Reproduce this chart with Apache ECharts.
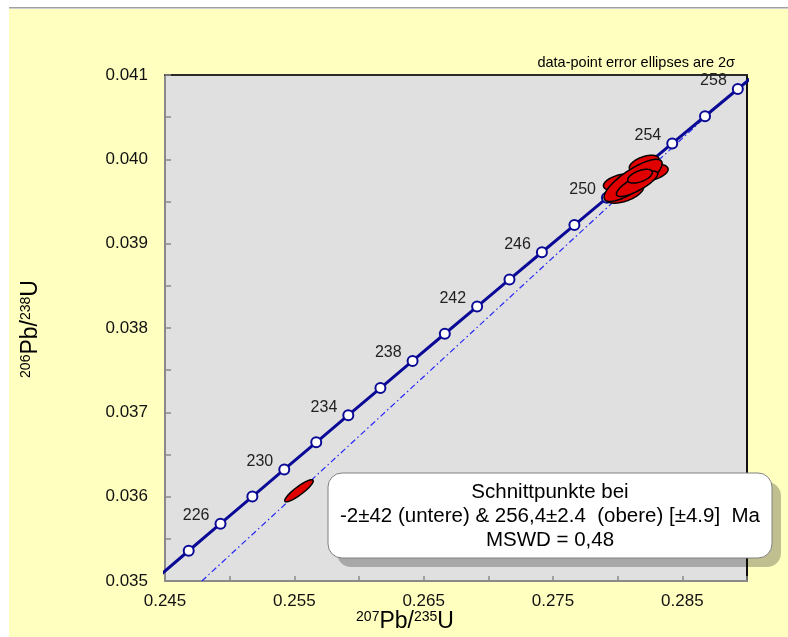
<!DOCTYPE html>
<html><head><meta charset="utf-8">
<script src="https://cdn.jsdelivr.net/npm/echarts@6/dist/echarts.min.js"></script>
<style>html,body{margin:0;padding:0;background:#fff}#c{width:788px;height:637px}</style>
</head><body><div id="c"></div>
<script>
// Concordia (age in Ma, 207Pb/235U, 206Pb/238U)
const concordiaAges = [222,224,226,228,230,232,234,236,238,240,242,244,246,248,250,252,254,256,258,260];
const concordiaX = [0.244379,0.246833,0.249291,0.251754,0.254222,0.256695,0.259173,0.261655,0.264143,0.266635,0.269133,0.271635,0.274142,0.276654,0.279171,0.281693,0.284220,0.286753,0.289290,0.291832];
const concordiaY = [0.0350376,0.0353588,0.0356800,0.0360014,0.0363229,0.0366445,0.0369661,0.0372879,0.0376098,0.0379317,0.0382538,0.0385760,0.0388982,0.0392206,0.0395431,0.0398657,0.0401883,0.0405111,0.0408340,0.0411569];
const markerAgeRange = [224, 258];
const labeledAges = [226,230,234,238,242,246,250,254,258];
// Discordia (regression) line
const discordiaX = [0.24785, 0.28726];
const discordiaY = [0.03500, 0.040568];
// Error ellipses: centre, 2-sigma x, 2-sigma y, correlation
const ellipseX   = [0.25536, 0.28040, 0.28240, 0.28205, 0.28055, 0.28119, 0.28150, 0.28173];
const ellipseY   = [0.03607, 0.03973, 0.03984, 0.03995, 0.03960, 0.03975, 0.03971, 0.03980];
const ellipseSX  = [0.00110, 0.00150, 0.00150, 0.00115, 0.00145, 0.00225, 0.00160, 0.00095];
const ellipseSY  = [0.000131, 0.000105, 0.000105, 0.000098, 0.000120, 0.000250, 0.000150, 0.000082];
const ellipseRho = [0.89, 0.40, 0.40, 0.50, 0.55, 0.80, 0.80, 0.54];
// Tick labels
const xTickLabels = ['0.245','0.255','0.265','0.275','0.285'];
const yTickLabels = ['0.035','0.036','0.037','0.038','0.039','0.040','0.041'];
const infoLines = ['Schnittpunkte bei', '-2\u00b142 (untere) & 256,4\u00b12.4  (obere) [\u00b14.9]  Ma', 'MSWD = 0,48'];
const noteText = 'data-point error ellipses are 2\u03c3';

const FONT = "'Liberation Sans', Arial, sans-serif";
const NAVY = '#0a0a96';

const lineData = concordiaX.map((x,i)=>[x, concordiaY[i], concordiaAges[i]]);
const markerData = lineData.filter(d => d[2] >= markerAgeRange[0] && d[2] <= markerAgeRange[1]);
const discData = discordiaX.map((x,i)=>[x, discordiaY[i]]);
const ellData = ellipseX.map((x,i)=>[x, ellipseY[i], ellipseSX[i], ellipseSY[i], ellipseRho[i]]);

const chart = echarts.init(document.getElementById('c'), null, {renderer:'canvas'});
chart.setOption({
  animation: false,
  backgroundColor: '#ffffc0',
  textStyle: {fontFamily: FONT},
  grid: {left:165, top:75, right:41, bottom:56, show:true, backgroundColor:'#e0e0e0', borderWidth:0},
  xAxis: [{
    type:'value', min:0.245, max:0.29, interval:0.005, position:'bottom',
    axisLine:{show:true, onZero:false, lineStyle:{color:'#8a8a8a', width:2}},
    axisTick:{show:true, inside:true, length:5, lineStyle:{color:'#8a8a8a', width:1.5}},
    axisLabel:{fontSize:17, color:'#111', margin:12, fontFamily:FONT,
      formatter: v => xTickLabels.includes(v.toFixed(3)) ? v.toFixed(3) : ''},
    splitLine:{show:false}
  },{
    type:'value', min:0.245, max:0.29, position:'top',
    axisLine:{show:true, onZero:false, lineStyle:{color:'#2a2a2a', width:2}},
    axisTick:{show:false}, axisLabel:{show:false}, splitLine:{show:false}
  }],
  yAxis: [{
    type:'value', min:0.035, max:0.041, interval:0.0005, position:'left',
    axisLine:{show:true, onZero:false, lineStyle:{color:'#8a8a8a', width:2}},
    axisTick:{show:true, inside:true, length:6, lineStyle:{color:'#8a8a8a', width:1.5}},
    axisLabel:{fontSize:17, color:'#111', margin:17, fontFamily:FONT,
      formatter: v => yTickLabels.includes(v.toFixed(3)) && Math.abs(v*1000 - Math.round(v*1000))<1e-6 ? v.toFixed(3) : ''},
    splitLine:{show:false}
  },{
    type:'value', min:0.035, max:0.041, position:'right',
    axisLine:{show:true, onZero:false, lineStyle:{color:'#111', width:2}},
    axisTick:{show:false}, axisLabel:{show:false}, splitLine:{show:false}
  }],
  series: [
    {type:'line', data:discData, symbol:'none', z:2,
     lineStyle:{color:'#2828f5', width:1.2, type:[6,3,1.5,3]}},
    {type:'line', data:lineData, symbol:'none', z:3, clip:true,
     lineStyle:{color:NAVY, width:3}},
    {type:'scatter', data:markerData, symbol:'circle', symbolSize:10, z:4,
     itemStyle:{color:'#ffffff', borderColor:NAVY, borderWidth:2, opacity:1},
     label:{show:true, position:'left', distance:5, offset:[0,-8], fontSize:16, color:'#222', fontFamily:FONT,
       formatter: p => labeledAges.includes(p.value[2]) ? String(p.value[2]) : ''}},
    {type:'custom', data:ellData, z:5, encode:{x:0, y:1},
     renderItem: function(params, api){
       const cx=api.value(0), cy=api.value(1), sx=api.value(2), sy=api.value(3), r=api.value(4);
       const pts=[]; const n=90; const q=Math.sqrt(1-r*r);
       for(let i=0;i<n;i++){
         const t=i/n*2*Math.PI;
         pts.push(api.coord([cx+sx*Math.cos(t), cy+sy*(r*Math.cos(t)+q*Math.sin(t))]));
       }
       return {type:'polygon', shape:{points:pts}, style:{fill:'#e00000', stroke:'#000', lineWidth:1.5}};
     }}
  ],
  graphic: [
    {type:'rect', shape:{x:0,y:0,width:788,height:9}, style:{fill:'#ffffff'}, z:50, silent:true},
    {type:'rect', shape:{x:0,y:0,width:9,height:637}, style:{fill:'#ffffff'}, z:50, silent:true},
    {type:'rect', shape:{x:9,y:7,width:779,height:1.5}, style:{fill:'#a0a0a0'}, z:51, silent:true},
    {type:'text', x:735, y:63, z:60, style:{text:noteText, fontSize:14.5, fill:'#000', align:'right', verticalAlign:'middle', fontFamily:FONT}},
    {type:'rect', shape:{x:337,y:482,width:444,height:85,r:14}, style:{fill:'rgba(0,0,0,0.25)'}, z:60, silent:true},
    {type:'rect', shape:{x:328,y:473,width:444,height:85,r:14}, style:{fill:'#ffffff', stroke:'#808080', lineWidth:1}, z:61, silent:true},
    {type:'text', x:550, y:516, z:62, style:{text:infoLines.join('\n'), fontSize:20.5, lineHeight:24, fill:'#000', align:'center', verticalAlign:'middle', fontFamily:FONT}},
    {type:'text', x:405, y:622, z:60, style:{text:'{s|207}{b|Pb/}{s|235}{b|U}', align:'center', verticalAlign:'middle', fontFamily:FONT, fill:'#000',
      rich:{s:{fontSize:14, padding:[0,0,10,0], fontFamily:FONT, fill:'#000'}, b:{fontSize:23, fontFamily:FONT, fill:'#000'}}}},
    {type:'text', x:31, y:329, rotation:Math.PI/2, z:60, style:{text:'{s|206}{b|Pb/}{s|238}{b|U}', align:'center', verticalAlign:'middle', fontFamily:FONT, fill:'#000',
      rich:{s:{fontSize:14, padding:[0,0,10,0], fontFamily:FONT, fill:'#000'}, b:{fontSize:23, fontFamily:FONT, fill:'#000'}}}}
  ]
});
</script></body></html>
